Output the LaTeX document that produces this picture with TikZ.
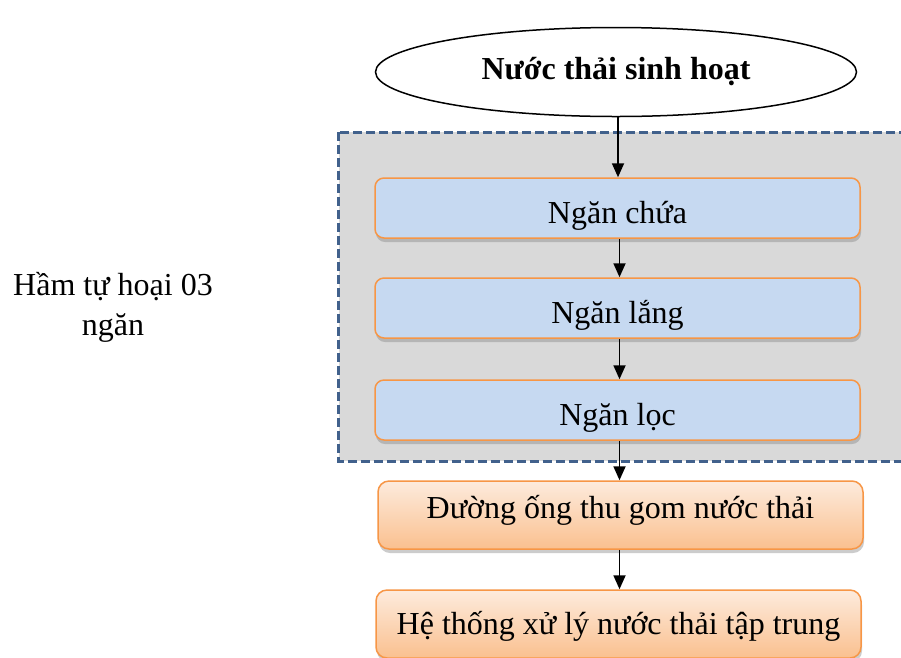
\documentclass[tikz,border=0pt]{standalone}
\usepackage{fontspec}
\setmainfont{Liberation Serif}
\usetikzlibrary{shapes.geometric,shadows,arrows.meta}
\definecolor{boxblue}{HTML}{C6D9F1}
\definecolor{boxorange}{HTML}{F79646}
\definecolor{peachtop}{HTML}{FDEBDD}
\definecolor{peachbot}{HTML}{FAC08F}
\definecolor{dashblue}{HTML}{41618C}
\definecolor{greyfill}{HTML}{D9D9D9}
\tikzset{
  x=1pt, y=-1pt,
  txt/.style={font=\fontsize{32}{40}\selectfont},
  chamber/.style={txt, draw=boxorange, line width=1.5pt, fill=boxblue, rounded corners=9pt,
    minimum width=485pt, minimum height=60pt, inner sep=0pt, text height=30pt, text depth=0pt,
    drop shadow={shadow xshift=1pt, shadow yshift=-4pt, opacity=0.4}},
  pipebox/.style={txt, draw=boxorange, line width=1.5pt, top color=peachtop, bottom color=peachbot,
    rounded corners=11pt, minimum width=485pt, minimum height=68pt, inner sep=0pt,
    drop shadow={shadow xshift=1pt, shadow yshift=-4pt, opacity=0.4}},
  flow/.style={line width=1.8pt, -{Triangle[length=14pt,width=12pt]}},
}
\begin{document}
\begin{tikzpicture}
\clip (0,0) rectangle (901,657);
\fill[white] (0,0) rectangle (901,657);
% dashed septic tank region
\draw[dashblue, fill=greyfill, line width=3pt, dash pattern=on 9pt off 4pt] (338.5,132) rectangle (905,461);
% nodes
\node[ellipse, draw, line width=1.5pt, fill=white, minimum width=481pt, minimum height=89pt, inner sep=0pt,
  font=\fontsize{32}{40}\selectfont\bfseries] (src) at (616,72) {Nước thải sinh hoạt};
\node[chamber] (c1) at (617.5,208) {Ngăn chứa};
\node[chamber] (c2) at (617.5,308) {Ngăn lắng};
\node[chamber] (c3) at (617.5,410) {Ngăn lọc};
\node[pipebox, text height=12pt, text depth=6pt] (p1) at (620.5,515) {Đường ống thu gom nước thải};
\node[pipebox, text height=24pt, text depth=4pt] (p2) at (618.5,624) {Hệ thống xử lý nước thải tập trung};
\node[txt, align=center] (lbl) at (113,307) {Hầm tự hoại 03\\ngăn};
% connectors
\coordinate (a0) at ([xshift=2pt]src.south);
\draw[flow] (a0) -- (a0 |- c1.north);
\coordinate (a1) at ([xshift=2pt]c1.south);
\draw[flow] (a1) -- (a1 |- c2.north);
\coordinate (a2) at ([xshift=2pt]c2.south);
\draw[flow] (a2) -- (a2 |- c3.north);
\coordinate (a3) at ([xshift=2pt]c3.south);
\draw[flow] (a3) -- (a3 |- p1.north);
\coordinate (a4) at ([xshift=-1pt]p1.south);
\draw[flow] (a4) -- (a4 |- p2.north);
\end{tikzpicture}
\end{document}
